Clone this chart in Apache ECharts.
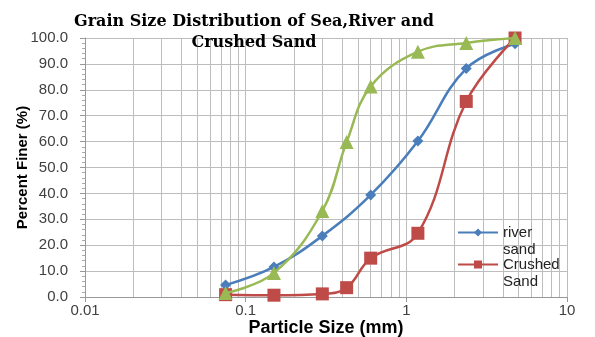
<!DOCTYPE html>
<html><head><meta charset="utf-8">
<script src="https://cdn.jsdelivr.net/npm/echarts@6/dist/echarts.min.js"></script>
<style>html,body{margin:0;padding:0;background:#fff}#c{width:595px;height:337px}</style>
</head><body><div id="c"></div>
<script>
const sieveSizes = [0.075, 0.15, 0.3, 0.425, 0.6, 1.18, 2.36, 4.75];
const riverSand = [4.6, 11.6, 23.6, null, 39.4, 60.2, 88.2, 97.8];
const crushedSand = [0.9, 0.7, 1.2, 3.6, 15.0, 24.6, 75.5, 100.0];
const seaSand = [1.5, 9.3, 33.2, 59.8, 81.3, 94.7, 98.1, 100.0];
const minorGrid = [0.02,0.03,0.04,0.05,0.06,0.07,0.08,0.09,0.2,0.3,0.4,0.5,0.6,0.7,0.8,0.9,2,3,4,5,6,7,8,9];
const yTicks = [0,10,20,30,40,50,60,70,80,90,100];

function pairs(vals){ const out=[]; vals.forEach((v,i)=>{ if(v!==null) out.push([sieveSizes[i], v]); }); return out; }

const gridColor = '#bdbdbd';
const chart = echarts.init(document.getElementById('c'), null, {renderer:'canvas'});
chart.setOption({
  animation:false,
  backgroundColor:'#fff',
  title:{
    text:'Grain Size Distribution of Sea,River and\nCrushed Sand',
    left:249, top:6, textAlign:'center',
    textStyle:{fontFamily:'DejaVu Serif', fontWeight:'bold', fontSize:16, lineHeight:21, color:'#000'}
  },
  grid:{left:85, right:28, top:38, bottom:40, outerBoundsMode:'none', containLabel:false},
  legend:[
    {data:['river sand'], left:457, top:207, padding:0, itemWidth:40, itemHeight:10, orient:'vertical',
     formatter:()=>' \nriver\nsand', textStyle:{fontFamily:'Liberation Sans', fontSize:15, lineHeight:17, color:'#222'}},
    {data:['Crushed Sand'], left:457, top:239, padding:0, itemWidth:40, itemHeight:10, orient:'vertical',
     formatter:()=>' \nCrushed\nSand', textStyle:{fontFamily:'Liberation Sans', fontSize:15, lineHeight:17, color:'#222'}}
  ],
  xAxis:{
    type:'log', logBase:10, min:0.01, max:10,
    name:'Particle Size (mm)', nameLocation:'middle', nameGap:22, nameMoveOverlap:false,
    nameTextStyle:{fontFamily:'Liberation Sans', fontWeight:'bold', fontSize:18, color:'#000'},
    axisLine:{show:true, lineStyle:{color:'#999'}},
    axisTick:{show:true, length:5, lineStyle:{color:'#999'}},
    axisLabel:{fontFamily:'Liberation Sans', fontSize:15, color:'#404040', margin:6, formatter:v=>String(v)},
    splitLine:{show:true, lineStyle:{color:gridColor, width:1}}
  },
  yAxis:{
    type:'value', min:0, max:100, interval:10,
    name:'Percent Finer (%)', nameLocation:'middle', nameGap:55, nameMoveOverlap:false,
    nameTextStyle:{fontFamily:'Liberation Sans', fontWeight:'bold', fontSize:15, color:'#000'},
    axisLine:{show:true, lineStyle:{color:'#999'}},
    axisTick:{show:true, length:5, lineStyle:{color:'#999'}},
    minorTick:{show:true, splitNumber:5, length:3, lineStyle:{color:'#aaa'}},
    axisLabel:{fontFamily:'Liberation Sans', fontSize:15, color:'#404040', margin:17, formatter:v=>v.toFixed(1)},
    splitLine:{show:true, lineStyle:{color:gridColor, width:1}}
  },
  series:[
    {name:'river sand', type:'line', smooth:0.4, data:pairs(riverSand),
     symbol:'diamond', symbolSize:11, z:3,
     lineStyle:{color:'#4a7ebb', width:2.5}, itemStyle:{color:'#4a7ebb'},
     markLine:{silent:true, symbol:['none','none'], label:{show:false},
       lineStyle:{color:gridColor, width:1, type:'solid'}, z:1,
       data:minorGrid.map(v=>({xAxis:v}))}},
    {name:'Crushed Sand', type:'line', smooth:0.4, data:pairs(crushedSand),
     symbol:'rect', symbolSize:13, z:4,
     lineStyle:{color:'#be4b48', width:2.5}, itemStyle:{color:'#be4b48'}},
    {name:'Sea Sand', type:'line', smooth:0.4, data:pairs(seaSand),
     symbol:'triangle', symbolSize:14, z:5,
     lineStyle:{color:'#98b954', width:2.5}, itemStyle:{color:'#98b954'}}
  ]
});
</script></body></html>
